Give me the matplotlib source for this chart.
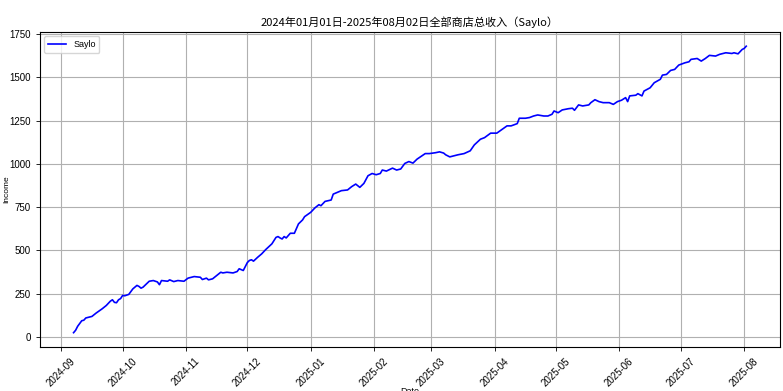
import matplotlib
matplotlib.use("Agg")
import matplotlib.pyplot as plt
import matplotlib.dates as mdates
import pandas as pd

plt.rcParams['font.family'] = ['Liberation Sans', 'Noto Sans CJK SC', 'DejaVu Sans']

# values
dates = [
    "2024-09-07", "2024-09-08", "2024-09-09", "2024-09-11", "2024-09-12", "2024-09-13",
    "2024-09-16", "2024-09-18", "2024-09-21", "2024-09-23", "2024-09-25", "2024-09-26",
    "2024-09-27", "2024-09-28", "2024-09-29", "2024-09-30",
    "2024-10-01", "2024-10-02", "2024-10-04", "2024-10-06", "2024-10-08", "2024-10-09",
    "2024-10-10", "2024-10-11", "2024-10-14", "2024-10-16", "2024-10-18", "2024-10-19",
    "2024-10-20", "2024-10-23", "2024-10-24", "2024-10-26", "2024-10-28", "2024-10-31",
    "2024-11-02", "2024-11-05", "2024-11-08", "2024-11-09", "2024-11-11", "2024-11-12",
    "2024-11-14", "2024-11-16", "2024-11-18", "2024-11-19", "2024-11-21", "2024-11-24",
    "2024-11-26", "2024-11-27", "2024-11-29",
    "2024-12-01", "2024-12-02", "2024-12-03", "2024-12-04", "2024-12-06", "2024-12-08",
    "2024-12-10", "2024-12-13", "2024-12-15", "2024-12-16", "2024-12-17", "2024-12-18",
    "2024-12-19", "2024-12-20", "2024-12-22", "2024-12-24", "2024-12-26", "2024-12-28",
    "2024-12-29",
    "2025-01-01", "2025-01-03", "2025-01-05", "2025-01-06", "2025-01-08", "2025-01-11",
    "2025-01-12", "2025-01-14", "2025-01-16", "2025-01-19", "2025-01-21", "2025-01-23",
    "2025-01-25", "2025-01-27", "2025-01-29", "2025-01-31",
    "2025-02-02", "2025-02-04", "2025-02-05", "2025-02-07", "2025-02-10", "2025-02-12",
    "2025-02-14", "2025-02-16", "2025-02-18", "2025-02-20", "2025-02-22", "2025-02-26",
    "2025-02-28",
    "2025-03-03", "2025-03-05", "2025-03-07", "2025-03-08", "2025-03-10", "2025-03-12",
    "2025-03-14", "2025-03-17", "2025-03-20", "2025-03-22", "2025-03-25", "2025-03-27",
    "2025-03-30",
    "2025-04-02", "2025-04-04", "2025-04-07", "2025-04-09", "2025-04-12", "2025-04-13",
    "2025-04-16", "2025-04-18", "2025-04-20", "2025-04-22", "2025-04-25", "2025-04-27",
    "2025-04-29", "2025-04-30",
    "2025-05-02", "2025-05-04", "2025-05-07", "2025-05-09", "2025-05-10", "2025-05-12",
    "2025-05-14", "2025-05-17", "2025-05-18", "2025-05-20", "2025-05-22", "2025-05-24",
    "2025-05-27", "2025-05-29", "2025-05-31",
    "2025-06-02", "2025-06-04", "2025-06-05", "2025-06-06", "2025-06-09", "2025-06-10",
    "2025-06-12", "2025-06-13", "2025-06-16", "2025-06-18", "2025-06-21", "2025-06-22",
    "2025-06-24", "2025-06-26", "2025-06-28", "2025-06-30",
    "2025-07-03", "2025-07-05", "2025-07-06", "2025-07-09", "2025-07-11", "2025-07-13",
    "2025-07-15", "2025-07-18", "2025-07-20", "2025-07-23", "2025-07-26", "2025-07-27",
    "2025-07-29", "2025-07-31",
    "2025-08-01", "2025-08-02",
]
income = [
    25, 39, 62, 94, 97, 110,
    119, 138, 163, 182, 207, 215,
    200, 198, 215, 222,
    240, 238, 246, 278, 298, 292,
    282, 288, 322, 326, 318, 302,
    326, 322, 330, 320, 326, 322,
    340, 349, 345, 332, 340, 330,
    336, 355, 374, 370, 374, 370,
    378, 394, 384,
    430, 442, 446, 438, 460, 480,
    505, 538, 575, 580, 572, 566,
    580, 572, 599, 599, 653, 676,
    695,
    720, 745, 764, 758, 783, 791,
    825, 835, 845, 849, 868, 883,
    864, 887, 931, 944,
    937, 944, 964, 958, 975, 964,
    970, 1002, 1013, 1004, 1027, 1059,
    1059,
    1064, 1069, 1062, 1052, 1040, 1046,
    1052, 1059, 1075, 1109, 1142, 1151,
    1177,
    1177, 1194, 1219, 1219, 1232, 1263,
    1263, 1267, 1276, 1282, 1276, 1276,
    1286, 1305,
    1295, 1311, 1318, 1321, 1309, 1340,
    1334, 1340, 1353, 1370, 1359, 1353,
    1353, 1343, 1359,
    1367, 1382, 1359, 1392, 1396, 1405,
    1392, 1420, 1439, 1468, 1488, 1512,
    1516, 1539, 1545, 1570,
    1583, 1589, 1603, 1608, 1593, 1608,
    1626, 1622, 1632, 1641, 1637, 1641,
    1635, 1660,
    1666, 1679,
]
series_name = "Saylo"
title = "2024年01月01日-2025年08月02日全部商店总收入（Saylo）"

x = pd.to_datetime(dates)

fig = plt.figure(figsize=(7.83, 3.91), dpi=100)
ax = fig.add_axes([0.051, 0.1125, 0.945, 0.806])
ax.plot(x, income, color="blue", linewidth=1.2, label=series_name)

ax.xaxis.set_major_locator(mdates.MonthLocator())
ax.xaxis.set_major_formatter(mdates.DateFormatter("%Y-%m"))
plt.setp(ax.get_xticklabels(), rotation=45)
ax.tick_params(labelsize=7, length=3, width=0.6)
ax.grid(True)

ax.set_title(title, fontsize=8, pad=4, family=['Noto Sans CJK SC', 'DejaVu Sans'])
ax.set_xlabel("Date", fontsize=6.5, labelpad=-1)
ax.set_ylabel("Income", fontsize=6)
ax.yaxis.set_label_coords(-0.040, 0.5)
ax.legend(loc="upper left", fontsize=6.5)

fig.savefig("out.png", dpi=100)
